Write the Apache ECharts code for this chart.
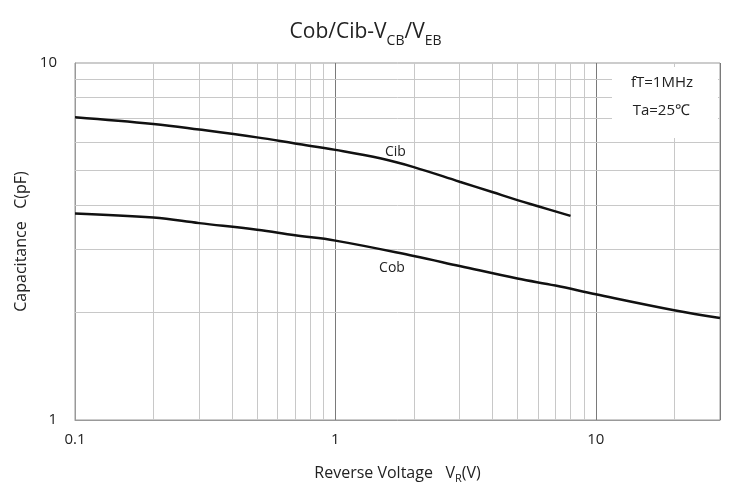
<!DOCTYPE html>
<html>
<head>
<meta charset="utf-8">
<script src="https://cdn.jsdelivr.net/npm/echarts@6/dist/echarts.min.js"></script>
<style>
  html, body { margin: 0; padding: 0; background: #fff; }
  #chart { width: 731px; height: 483px; }
</style>
</head>
<body>
<div id="chart"></div>
<script>
// Cib 曲线（V_EB）
const cibVolts = [0.1, 0.2, 0.3, 0.5, 0.7, 1, 1.5, 2, 3, 4, 5, 6, 8]
const cibValues = [7.05, 6.75, 6.51, 6.19, 5.95, 5.71, 5.40, 5.11, 4.65, 4.35, 4.13, 3.97, 3.73]
// Cob 曲线（V_CB）
const cobVolts = [0.1, 0.2, 0.3, 0.5, 0.7, 1, 2, 3, 5, 7, 10, 20, 30]
const cobValues = [3.79, 3.69, 3.56, 3.41, 3.29, 3.18, 2.88, 2.70, 2.49, 2.38, 2.25, 2.03, 1.93]

// 刻度标签 & 次网格线
const xTickLabels = [0.1, 1, 10]
const yTickLabels = [1, 10]
const xMinorLines = [0.2, 0.3, 0.4, 0.5, 0.6, 0.7, 0.8, 0.9, 2, 3, 4, 5, 6, 7, 8, 9, 20]
const yMinorLines = [2, 3, 4, 5, 6, 7, 8, 9]

const FONT = '"Open Sans", Lato, sans-serif'
const TEXT = '#222'
const toPairs = (xs, ys) => xs.map((x, i) => [x, ys[i]])

const chart = echarts.init(document.getElementById('chart'))

const curveLabel = (text, coord) => ({
    symbol: 'circle',
    symbolSize: 1,
    itemStyle: { color: 'transparent' },
    label: { show: true, position: 'inside', formatter: text, fontFamily: FONT, fontSize: 14, color: TEXT },
    data: [{ coord }],
})

const option = {
    animation: false,
    backgroundColor: '#fff',
    title: {
        left: 'center',
        top: 10,
        text: '{n|Cob/Cib-V}{s|CB}{n|/V}{s|EB}',
        textStyle: {
            fontWeight: 'normal',
            rich: {
                n: { fontFamily: FONT, fontSize: 21, fontWeight: 'normal', color: TEXT, lineHeight: 28, verticalAlign: 'bottom' },
                s: { fontFamily: FONT, fontSize: 14, fontWeight: 'normal', color: TEXT, lineHeight: 28, verticalAlign: 'bottom', padding: [0, 0, -5, 0] },
            },
        },
    },
    grid: {
        left: 75,
        right: 11,
        top: 63,
        bottom: 63,
        outerBoundsMode: 'none',
        containLabel: false,
        show: true,
        borderColor: '#999',
        borderWidth: 1,
    },
    xAxis: {
        type: 'log',
        logBase: 10,
        min: 0.1,
        max: 30,
        name: '{n|Reverse Voltage   V}{s|R}{n|(V)}',
        nameLocation: 'middle',
        nameGap: 39,
        nameTextStyle: {
            rich: {
                n: { fontFamily: FONT, fontSize: 16, color: TEXT, lineHeight: 22, verticalAlign: 'bottom' },
                s: { fontFamily: FONT, fontSize: 11, color: TEXT, lineHeight: 22, verticalAlign: 'bottom', padding: [0, 0, -3, 0] },
            },
        },
        axisLine: { show: true, lineStyle: { color: '#999' } },
        axisTick: { show: false },
        axisLabel: {
            fontFamily: FONT,
            fontSize: 15,
            color: TEXT,
            margin: 12,
            showMaxLabel: false,
            formatter: (v) => xTickLabels.some(t => Math.abs(t - v) < 1e-9) ? String(v) : '',
        },
        splitLine: { show: true, lineStyle: { color: '#7a7a7a', width: 1 } },
    },
    yAxis: {
        type: 'log',
        logBase: 10,
        min: 1,
        max: 10,
        name: 'Capacitance   C(pF)',
        nameLocation: 'middle',
        nameGap: 45,
        nameTextStyle: { fontFamily: FONT, fontSize: 16, color: TEXT },
        axisLine: { show: true, lineStyle: { color: '#999' } },
        axisTick: { show: false },
        axisLabel: {
            fontFamily: FONT,
            fontSize: 15,
            color: TEXT,
            margin: 18,
            formatter: (v) => yTickLabels.some(t => Math.abs(t - v) < 1e-9) ? String(v) : '',
        },
        splitLine: { show: false },
    },
    graphic: [
        {
            type: 'rect',
            z: 100,
            right: 13,
            top: 67,
            shape: { width: 106, height: 71 },
            style: { fill: '#fff' },
        },
        {
            type: 'text',
            z: 101,
            right: 38,
            top: 75,
            style: { text: 'fT=1MHz', font: '15px ' + FONT, fill: TEXT },
        },
        {
            type: 'text',
            z: 101,
            right: 41,
            top: 103,
            style: { text: 'Ta=25℃', font: '15px ' + FONT, fill: TEXT },
        },
    ],
    series: [
        {
            // 次网格线
            name: 'grid',
            type: 'line',
            z: 1,
            silent: true,
            symbol: 'none',
            data: [[0.1, 1]],
            lineStyle: { opacity: 0 },
            markLine: {
                silent: true,
                symbol: ['none', 'none'],
                label: { show: false },
                lineStyle: { color: '#c8c8c8', width: 1, type: 'solid' },
                data: [
                    ...xMinorLines.map(v => ({ xAxis: v })),
                    ...yMinorLines.map(v => ({ yAxis: v })),
                ],
            },
        },
        {
            name: 'Cib',
            type: 'line',
            z: 5,
            smooth: 0.4,
            symbol: 'none',
            data: toPairs(cibVolts, cibValues),
            lineStyle: { color: '#111', width: 2.5 },
            markPoint: curveLabel('Cib', [1.7, 5.63]),
        },
        {
            name: 'Cob',
            type: 'line',
            z: 5,
            smooth: 0.4,
            symbol: 'none',
            data: toPairs(cobVolts, cobValues),
            lineStyle: { color: '#111', width: 2.5 },
            markPoint: curveLabel('Cob', [1.65, 2.67]),
        },
    ],
}

chart.setOption(option)
</script>
</body>
</html>
